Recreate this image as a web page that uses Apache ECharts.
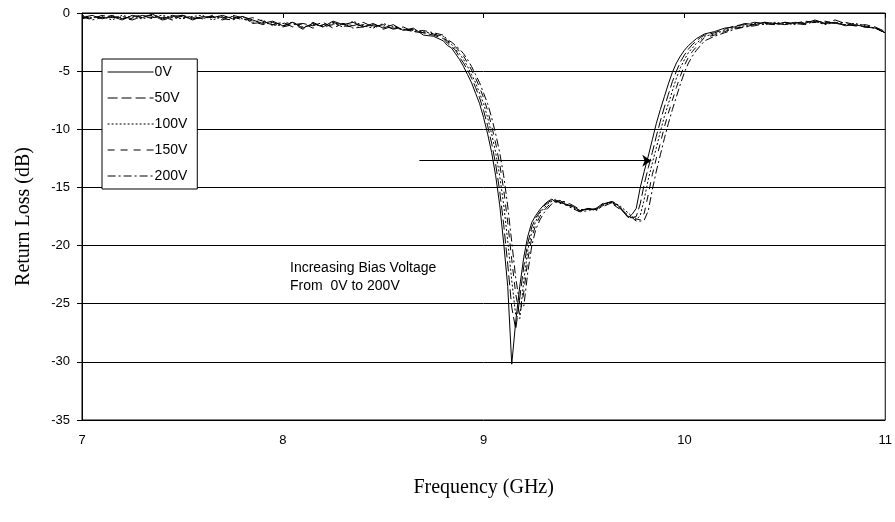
<!DOCTYPE html>
<html>
<head>
<meta charset="utf-8">
<script src="https://cdn.jsdelivr.net/npm/echarts@6/dist/echarts.min.js"></script>
<style>
  html, body { margin: 0; padding: 0; background: #fff; }
  #chart { width: 895px; height: 522px; }
</style>
</head>
<body>
<div id="chart"></div>
<script>
// frequency points (GHz)
var freq = [
  7.00,7.05,7.10,7.15,7.20,7.25,7.30,7.35,7.40,7.45,7.50,7.55,7.60,7.65,7.70,7.75,7.80,7.85,7.90,7.95,
  8.00,8.05,8.10,8.15,8.20,8.25,8.30,8.35,8.40,8.45,8.50,8.55,8.60,8.65,8.70,8.75,8.80,
  8.82,8.84,8.86,8.88,8.90,8.92,8.94,8.96,8.98,9.00,9.02,9.04,9.06,9.08,9.10,9.12,9.14,9.16,9.18,9.20,
  9.22,9.24,9.26,9.28,9.30,9.32,9.34,9.36,9.38,9.40,
  9.44,9.48,9.52,9.56,9.60,9.64,9.68,9.72,
  9.74,9.76,9.78,9.80,9.82,9.84,9.86,9.88,9.90,9.92,9.94,9.96,9.98,10.00,10.02,10.04,10.06,10.08,10.10,
  10.15,10.20,10.25,10.30,10.35,10.40,10.45,10.50,10.55,10.60,10.65,10.70,10.75,10.80,10.85,10.90,10.95,11.00
];

// return loss (dB) per bias voltage
var rl0V = [
  -0.4,-0.2,-0.5,-0.3,-0.6,-0.2,-0.4,-0.1,-0.5,-0.3,-0.2,-0.6,-0.3,-0.4,-0.2,-0.5,-0.3,-0.6,-0.9,-0.7,
  -1.1,-0.8,-1.3,-0.9,-1.2,-0.7,-1.0,-0.8,-1.2,-0.9,-1.3,-1.0,-1.5,-1.3,-1.9,-2.0,-2.4,
  -2.8,-3.0,-3.5,-4.0,-4.6,-5.3,-6.0,-6.9,-7.8,-9.0,-10.4,-12.0,-14.0,-16.5,-19.8,-23.5,-30.2,-26.5,-23.5,-21.0,
  -19.2,-18.0,-17.4,-16.9,-16.5,-16.2,-16.0,-16.3,-16.1,-16.4,
  -16.6,-17.0,-16.8,-16.9,-16.4,-16.2,-16.7,-17.6,
  -17.3,-16.8,-15.0,-13.6,-12.3,-10.9,-9.5,-8.3,-7.2,-6.1,-5.1,-4.3,-3.7,-3.2,-2.8,-2.5,-2.2,-2.0,-1.8,
  -1.6,-1.3,-1.2,-0.9,-1.0,-0.8,-0.9,-1.0,-0.8,-0.9,-0.6,-0.9,-0.8,-1.1,-1.0,-1.2,-1.3,-1.7
];
var rl50V = [
  -0.3,-0.5,-0.2,-0.4,-0.3,-0.5,-0.2,-0.4,-0.3,-0.6,-0.2,-0.4,-0.5,-0.2,-0.4,-0.3,-0.6,-0.4,-0.7,-1.0,
  -0.8,-1.2,-0.9,-1.1,-0.8,-1.3,-0.9,-1.1,-0.8,-1.2,-1.0,-1.4,-1.2,-1.6,-1.7,-1.9,-2.2,
  -2.6,-2.9,-3.2,-3.8,-4.3,-4.9,-5.6,-6.4,-7.3,-8.4,-9.7,-11.2,-13.0,-15.3,-18.2,-21.6,-25.3,-27.2,-24.5,-21.8,
  -19.8,-18.4,-17.6,-17.1,-16.6,-16.3,-16.1,-16.2,-16.3,-16.2,
  -16.5,-16.9,-16.9,-16.8,-16.3,-16.3,-16.8,-17.4,
  -17.6,-17.5,-16.4,-14.7,-13.3,-12.0,-10.6,-9.3,-8.1,-7.0,-5.9,-5.0,-4.2,-3.6,-3.1,-2.7,-2.4,-2.1,-1.9,
  -1.7,-1.4,-1.1,-1.0,-0.8,-0.9,-1.0,-0.8,-0.9,-0.7,-0.8,-0.9,-0.6,-0.9,-1.1,-1.0,-1.2,-1.6
];
var rl100V = [
  -0.2,-0.4,-0.3,-0.6,-0.2,-0.4,-0.5,-0.3,-0.2,-0.4,-0.5,-0.3,-0.2,-0.6,-0.3,-0.4,-0.5,-0.8,-0.6,-1.1,
  -0.9,-0.8,-1.2,-1.0,-1.1,-0.9,-1.2,-0.7,-1.1,-1.3,-0.9,-1.2,-1.4,-1.5,-1.6,-1.8,-2.0,
  -2.5,-2.7,-3.1,-3.5,-4.0,-4.6,-5.3,-6.0,-6.9,-7.8,-9.0,-10.4,-12.0,-14.0,-16.5,-19.6,-23.0,-26.0,-26.3,-23.0,
  -20.4,-18.8,-17.9,-17.2,-16.8,-16.4,-16.2,-16.0,-16.4,-16.3,
  -16.7,-17.1,-16.8,-17.0,-16.5,-16.2,-16.6,-17.2,
  -17.5,-17.8,-17.4,-16.0,-14.3,-12.9,-11.6,-10.2,-8.9,-7.8,-6.7,-5.6,-4.7,-4.0,-3.4,-3.0,-2.6,-2.3,-2.0,
  -1.8,-1.5,-1.3,-1.1,-0.9,-1.0,-0.8,-0.9,-1.0,-0.8,-0.7,-1.0,-0.8,-1.0,-0.9,-1.1,-1.3,-1.7
];
var rl150V = [
  -0.5,-0.3,-0.4,-0.2,-0.5,-0.3,-0.2,-0.5,-0.4,-0.2,-0.4,-0.3,-0.5,-0.3,-0.6,-0.2,-0.4,-0.7,-1.0,-0.8,
  -1.2,-1.0,-0.9,-1.3,-1.0,-0.8,-1.1,-1.2,-1.0,-1.1,-1.4,-1.1,-1.5,-1.4,-1.7,-1.8,-2.1,
  -2.4,-2.6,-2.9,-3.3,-3.7,-4.3,-4.9,-5.6,-6.4,-7.3,-8.4,-9.7,-11.2,-13.0,-15.2,-18.0,-21.2,-24.2,-26.0,-24.0,
  -21.2,-19.3,-18.2,-17.5,-17.0,-16.6,-16.3,-16.1,-16.2,-16.5,
  -16.6,-17.0,-16.9,-16.9,-16.4,-16.4,-16.9,-17.5,
  -17.4,-17.7,-17.8,-17.2,-15.6,-13.9,-12.5,-11.2,-9.8,-8.6,-7.5,-6.4,-5.4,-4.5,-3.8,-3.3,-2.9,-2.5,-2.1,
  -1.9,-1.6,-1.3,-1.2,-1.0,-0.8,-0.9,-1.0,-0.8,-0.9,-0.8,-0.7,-0.9,-1.0,-1.1,-1.2,-1.2,-1.8
];
var rl200V = [
  -0.3,-0.6,-0.4,-0.3,-0.4,-0.6,-0.3,-0.2,-0.6,-0.4,-0.3,-0.5,-0.4,-0.3,-0.5,-0.6,-0.3,-0.9,-0.8,-1.0,
  -1.1,-0.9,-1.4,-0.8,-1.2,-1.0,-0.9,-1.3,-1.2,-1.0,-1.2,-1.3,-1.4,-1.6,-1.5,-1.7,-1.9,
  -2.3,-2.5,-2.8,-3.1,-3.5,-4.0,-4.6,-5.3,-6.0,-6.9,-7.8,-9.0,-10.4,-12.0,-14.0,-16.6,-19.7,-22.8,-25.0,-25.2,
  -22.3,-20.0,-18.6,-17.8,-17.2,-16.8,-16.4,-16.2,-16.3,-16.4,
  -16.8,-17.1,-17.0,-16.8,-16.6,-16.3,-16.8,-17.6,
  -17.6,-17.9,-17.9,-17.8,-17.0,-15.2,-13.6,-12.2,-10.8,-9.5,-8.3,-7.2,-6.1,-5.1,-4.3,-3.7,-3.2,-2.8,-2.4,
  -2.0,-1.7,-1.4,-1.2,-1.1,-0.9,-1.0,-0.8,-0.9,-1.0,-0.7,-0.8,-0.9,-0.8,-1.0,-1.2,-1.3,-1.7
];

var seriesNames = ['0V', '50V', '100V', '150V', '200V'];
var seriesValues = [rl0V, rl50V, rl100V, rl150V, rl200V];
var dashTypes = ['solid', [10, 4], [2, 2], [7, 6], [8, 3, 2, 3]];

// arrow annotation (x from, x to, y level)
var arrowFrom = [8.68, -12.7];
var arrowTo = [9.835, -12.7];

var chart = echarts.init(document.getElementById('chart'));

var series = seriesNames.map(function (name, i) {
  var s = {
    name: name,
    type: 'line',
    symbol: 'none',
    smooth: false,
    data: freq.map(function (f, j) { return [f, seriesValues[i][j]]; }),
    lineStyle: { color: '#000', width: 1, type: dashTypes[i] },
    itemStyle: { color: '#000' }
  };
  if (i === 0) {
    s.markLine = {
      silent: true,
      animation: false,
      symbol: ['none', 'arrow'],
      symbolSize: 9,
      label: { show: false },
      lineStyle: { color: '#000', width: 1, type: 'solid' },
      data: [[{ coord: arrowFrom }, { coord: arrowTo }]]
    };
  }
  return s;
});

var option = {
  animation: false,
  backgroundColor: '#fff',
  grid: { left: 82, right: 7, top: 13, bottom: 102, show: true, borderColor: '#000', borderWidth: 1 },
  legend: {
    data: seriesNames,
    orient: 'vertical',
    left: 102,
    top: 59,
    padding: [6, 10, 6, 5],
    itemWidth: 46,
    itemHeight: 14,
    itemGap: 12,
    borderColor: '#000',
    borderWidth: 1,
    backgroundColor: '#fff',
    itemStyle: { opacity: 0 },
    lineStyle: { width: 1.2, color: '#000', opacity: 1 },
    textStyle: { fontFamily: 'Liberation Sans', fontSize: 14, color: '#000', padding: [0, 0, 0, -4] }
  },
  xAxis: {
    type: 'value',
    min: 7,
    max: 11,
    interval: 1,
    name: 'Frequency (GHz)',
    nameLocation: 'middle',
    nameGap: 58,
    nameTextStyle: { fontFamily: 'Liberation Serif', fontSize: 20, color: '#000' },
    axisLine: { show: true, lineStyle: { color: '#000', width: 1 } },
    axisTick: { show: true, length: 5, lineStyle: { color: '#000' } },
    axisLabel: { color: '#000', fontFamily: 'Liberation Sans', fontSize: 13, margin: 14 },
    splitLine: { show: false }
  },
  yAxis: {
    type: 'value',
    min: -35,
    max: 0,
    interval: 5,
    name: 'Return Loss (dB)',
    nameLocation: 'middle',
    nameGap: 48,
    nameTextStyle: { fontFamily: 'Liberation Serif', fontSize: 20, color: '#000' },
    axisLine: { show: true, lineStyle: { color: '#000', width: 1 } },
    axisTick: { show: true, length: 5, lineStyle: { color: '#000' } },
    axisLabel: { color: '#000', fontFamily: 'Liberation Sans', fontSize: 13, margin: 12 },
    splitLine: { show: true, lineStyle: { color: '#000', width: 1 } }
  },
  graphic: [
    { type: 'text', left: 290, top: 261, style: { text: 'Increasing Bias Voltage', fontFamily: 'Liberation Sans', fontSize: 14, fill: '#000' } },
    { type: 'text', left: 290, top: 279, style: { text: 'From  0V to 200V', fontFamily: 'Liberation Sans', fontSize: 14, fill: '#000' } }
  ],
  series: series
};

chart.setOption(option);
</script>
</body>
</html>
